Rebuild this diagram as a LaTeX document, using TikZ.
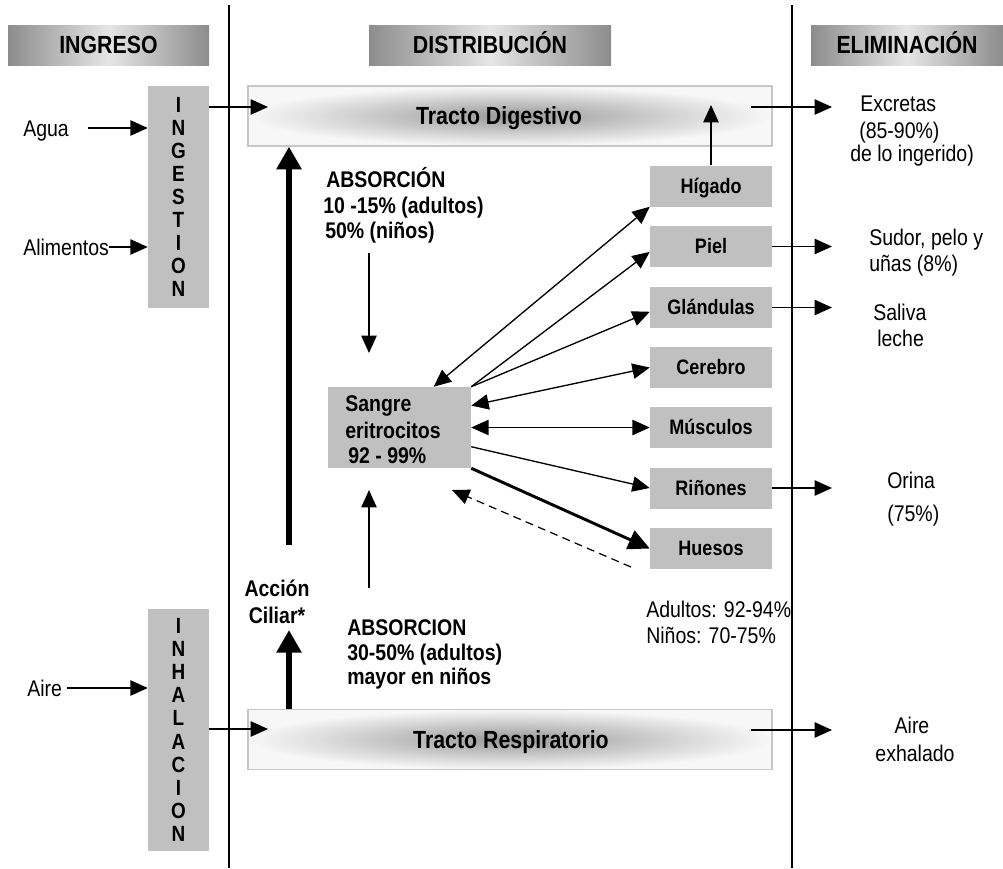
\documentclass[tikz,border=0pt]{standalone}
\usepackage{fontspec}
\setmainfont{Liberation Sans}[FakeStretch=0.86]
\usetikzlibrary{arrows.meta}
\definecolor{gbox}{HTML}{C0C0C0}
\begin{document}
\begin{tikzpicture}[x=0.75pt,y=-0.75pt,
  txt/.style={inner sep=0pt, text height=12.2pt, text depth=0pt, font=\fontsize{17}{20}\selectfont},
  txtb/.style={txt, font=\fontsize{17}{20}\selectfont\bfseries},
  hdr/.style={left color=black!45, right color=black!45, middle color=black!10, minimum height=30pt, inner sep=0pt, text height=13.3pt, text depth=0pt, font=\fontsize{18.6}{22}\selectfont\bfseries},
  hdrt/.style={inner sep=0pt, text height=13.3pt, text depth=0pt, font=\fontsize{18.6}{22}\selectfont\bfseries},
  tract/.style={draw=black!22, line width=1pt, inner color=black!40, outer color=black!3, minimum width=393pt, minimum height=45pt, inner sep=0pt},
  organ/.style={fill=gbox, minimum width=91.5pt, minimum height=30.75pt, inner sep=0pt, text height=11.2pt, text depth=0pt, font=\fontsize{15.7}{18}\selectfont\bfseries},
  vbox/.style={fill=gbox, minimum width=45.75pt, inner sep=0pt, align=center},
  sgbox/.style={fill=gbox, minimum width=107.25pt, minimum height=60.75pt, inner sep=0pt},
  ar/.style={line width=1pt, -{Triangle[length=13pt,width=11.5pt]}},
  dar/.style={line width=1pt, {Triangle[length=13pt,width=11.5pt]}-{Triangle[length=13pt,width=11.5pt]}},
  thk/.style={line width=4.5pt, -{Triangle[length=17pt,width=18pt]}},
  med/.style={line width=2.2pt, -{Triangle[length=16pt,width=15pt]}},
  dsh/.style={line width=0.9pt, dash pattern=on 6pt off 4pt, -{Triangle[length=13pt,width=11.5pt]}},
  divider/.style={line width=1.1pt}
]
\useasboundingbox (0,0) rectangle (1003,868);

% dividers
\coordinate (d1t) at (229,5);  \coordinate (d1b) at (229,868);
\coordinate (d2t) at (792,5);  \coordinate (d2b) at (792,868);
\draw[divider] (d1t) -- (d1b);
\draw[divider] (d2t) -- (d2b);

% headers
\node[hdr, minimum width=150.75pt] (ingr) at (108.5,45) {INGRESO};
\node[hdr, minimum width=181.5pt] (dist) at (490,45) {DISTRIBUCIÓN};
\node[hdr, minimum width=144pt] (elim) at (907,45) {ELIMINACIÓN};

% tracts
\node[tract] (td) at (510,116) {};
\node[hdrt] (tdt) at (499,116) {Tracto Digestivo};
\node[tract] (tr) at (510,739.5) {};
\node[hdrt] (trt) at (511,740) {Tracto Respiratorio};

% vertical boxes
\node[vbox, minimum height=166.5pt, font=\fontsize{16.5}{17.25}\selectfont\bfseries] (ingest) at (178.5,197)
  {I\\N\\G\\E\\S\\T\\I\\O\\N};
\node[vbox, minimum height=181.5pt, font=\fontsize{16.5}{17.4}\selectfont\bfseries] (inhal) at (178.5,730)
  {I\\N\\H\\A\\L\\A\\C\\I\\O\\N};

% left inputs
\node[txt, anchor=west] (agua) at (23,128) {Agua};
\node[txt, anchor=west] (alim) at (23,247) {Alimentos};
\node[txt, anchor=west] (aire) at (27,688) {Aire};
\draw[ar, shorten <=14pt] (agua.east) -- (ingest.west |- agua.east);
\draw[ar] (alim.east) -- (ingest.west |- alim.east);
\draw[ar, shorten <=3.75pt] (aire.east) -- (inhal.west |- aire.east);

\coordinate (tdin) at (268,107);
\coordinate (trin) at (268,729);
\draw[ar] (ingest.east |- tdin) -- (tdin);
\draw[ar] (inhal.east |- trin) -- (trin);

% organs
\node[organ] (hig) at (711,186) {Hígado};
\node[organ] (piel) at (711,246.5) {Piel};
\node[organ] (gla) at (711,307.5) {Glándulas};
\node[organ] (cer) at (711,367.5) {Cerebro};
\node[organ] (mus) at (711,427.5) {Músculos};
\node[organ] (rin) at (711,488) {Riñones};
\node[organ] (hue) at (711,548.5) {Huesos};

% sangre
\node[sgbox] (sg) at (399.5,427.5) {};
\node[txtb, anchor=west] (sg1) at (345,403) {Sangre};
\node[txtb, anchor=west] (sg2) at (345,430) {eritrocitos};
\node[txtb, anchor=west] (sg3) at (348,455) {92 - 99\%};

% absorption texts
\node[txtb, anchor=west] (ab1a) at (326,179) {ABSORCIÓN};
\node[txtb, anchor=west] (ab1b) at (323,205) {10 -15\% (adultos)};
\node[txtb, anchor=west] (ab1c) at (325,230) {50\% (niños)};
\node[txtb, anchor=west] (ab2a) at (347,627) {ABSORCION};
\node[txtb, anchor=west] (ab2b) at (347,652) {30-50\% (adultos)};
\node[txtb, anchor=west] (ab2c) at (347,676) {mayor en niños};
\node[txtb] (cil1t) at (277,588) {Acción};
\node[txtb] (cil2t) at (277,615) {Ciliar*};

\coordinate (ab1s) at (369,253); \coordinate (ab1e) at (369,353);
\coordinate (ab2s) at (369,588); \coordinate (ab2e) at (369,490);
\draw[ar] (ab1s) -- (ab1e);
\draw[ar] (ab2s) -- (ab2e);

% thick ciliar arrows
\coordinate (cil1) at (289,545);
\coordinate (cil2) at (289,630);
\draw[thk] (cil1) -- (cil1 |- td.south);
\draw[thk] (cil2 |- tr.north) -- (cil2);

% sangre <-> organs
\draw[dar] (sg.50.4) -- (hig.south west);
\draw[ar] (sg.north east) -- (piel.185);
\draw[ar] (sg.north east) -- (gla.184);
\draw[dar] (sg.17.5) -- (cer.west);
\draw[dar] (sg.east) -- (mus.west);
\draw[ar] (sg.-15.3) -- (rin.west);
\draw[med] (sg.south east) -- (hue.west);
\coordinate (dshs) at (631,567); \coordinate (dshe) at (452,490);
\draw[dsh] (dshs) -- (dshe);

% higado to tract
\coordinate (tdhig) at (711,105);
\draw[ar] (hig.north) -- (tdhig);

% eliminations
\coordinate (eout) at (832,0);
\coordinate (tdout) at (751,107);
\coordinate (trout) at (751,730);
\draw[ar] (tdout) -- (tdout -| eout);
\draw[ar] (piel.east) -- (piel.east -| eout);
\draw[ar] (gla.east) -- (gla.east -| eout);
\draw[ar] (rin.east) -- (rin.east -| eout);
\draw[ar] (trout) -- (trout -| eout);

\node[txt, anchor=west] (ex1) at (860,103) {Excretas};
\node[txt, anchor=west] (ex2) at (859,130) {(85-90\%)};
\node[txt, anchor=west] (ex3) at (850,153) {de lo ingerido)};
\node[txt, anchor=west] (su1) at (869,237) {Sudor, pelo y};
\node[txt, anchor=west] (su2) at (869,263) {uñas (8\%)};
\node[txt, anchor=west] (sa1) at (873,312) {Saliva};
\node[txt, anchor=west] (sa2) at (877,338) {leche};
\node[txt, anchor=west] (or1) at (887,480) {Orina};
\node[txt, anchor=west] (or2) at (887,513) {(75\%)};
\node[txt] (ea1) at (912,725) {Aire};
\node[txt] (ea2) at (915,753) {exhalado};
\node[txt, anchor=west] (ad1) at (646,609) {Adultos: 92-94\%};
\node[txt, anchor=west] (ad2) at (646,635) {Niños: 70-75\%};
\end{tikzpicture}
\end{document}
